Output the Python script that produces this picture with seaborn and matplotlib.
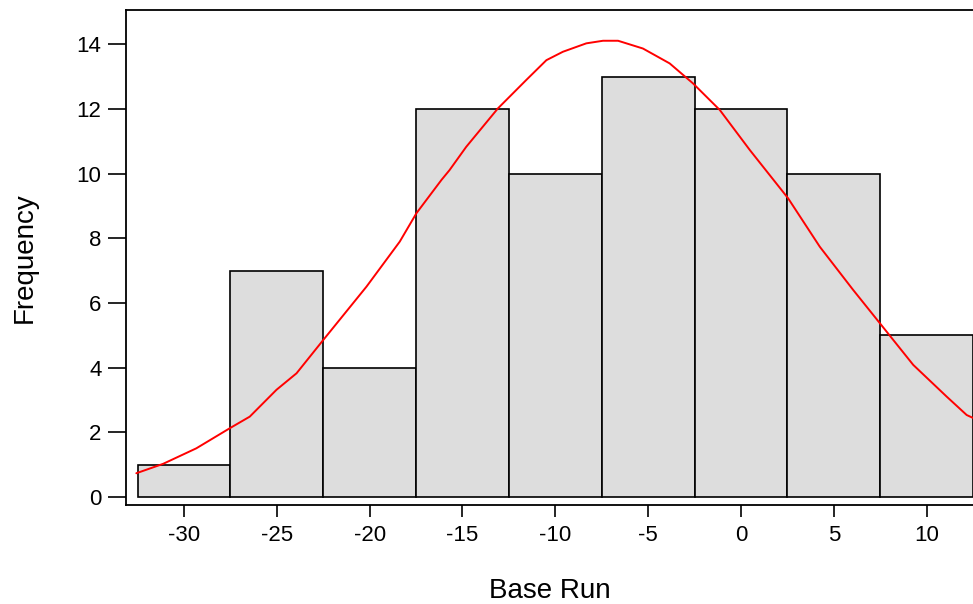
#!/usr/bin/env python
# coding: utf-8
#
import seaborn as sb
from matplotlib import pyplot as plt
import numpy as np

# histogram: bin centres and counts
bin_centres = [-30, -25, -20, -15, -10, -5, 0, 5, 10]
counts = [1, 7, 4, 12, 10, 13, 12, 10, 5]
bin_edges = [-32.5, -27.5, -22.5, -17.5, -12.5, -7.5, -2.5, 2.5, 7.5, 12.5]

# fitted curve
curve_x = [-32.57, -31.13, -29.34, -27.54, -26.46, -25.02, -23.94, -22.5, -20.17,
           -18.38, -17.48, -16.13, -15.70, -14.80, -13.09, -11.56, -10.48, -9.59,
           -8.33, -7.43, -6.62, -5.28, -3.84, -2.58, -1.14, 0.48, 2.54, 4.25,
           6.04, 7.48, 9.28, 11.08, 12.16, 12.5]
curve_y = [0.74, 1.03, 1.51, 2.13, 2.49, 3.32, 3.83, 4.86, 6.51,
           7.90, 8.78, 9.81, 10.11, 10.83, 12.02, 12.90, 13.51, 13.77,
           14.03, 14.11, 14.11, 13.87, 13.41, 12.79, 11.97, 10.73, 9.24, 7.74,
           6.41, 5.38, 4.09, 3.11, 2.54, 2.45]

sb.set_style('ticks', {'axes.edgecolor': 'black', 'xtick.color': 'black',
                       'ytick.color': 'black', 'text.color': 'black',
                       'axes.labelcolor': 'black'})
plt.rcParams['font.family'] = ['Liberation Sans', 'DejaVu Sans']
plt.rcParams['axes.unicode_minus'] = False
#
fig = plt.figure(figsize=(9.73, 6.04), dpi=100)
ax = fig.add_axes([0.130, 0.164, 0.870, 0.8194])

sb.histplot(x=bin_centres, weights=counts, bins=bin_edges, color='#dddddd',
            edgecolor='black', linewidth=1.2, alpha=1, ax=ax)
sb.lineplot(x=curve_x, y=curve_y, color='red', linewidth=1.4, sort=False, ax=ax)

ax.set_xlim(-33.1, 12.5)
ax.set_ylim(-0.24, 15.06)
ax.set_xticks(np.arange(-30, 11, 5))
ax.set_yticks(np.arange(0, 15, 2))
ax.tick_params(axis='x', labelsize=16, length=8.5, width=1.2, pad=6)
ax.tick_params(axis='y', labelsize=16, length=13, width=1.2, pad=5)

for s in ['left', 'bottom', 'top']:
    ax.spines[s].set_linewidth(1.3)
ax.spines['right'].set_visible(False)

ax.set_xlabel('Base Run', fontsize=20)
ax.set_ylabel('Frequency', fontsize=20)
ax.xaxis.set_label_coords(0.5, -0.148)
ax.yaxis.set_label_coords(-0.105, 0.5)
#
fig.savefig('out.png', dpi=100)
